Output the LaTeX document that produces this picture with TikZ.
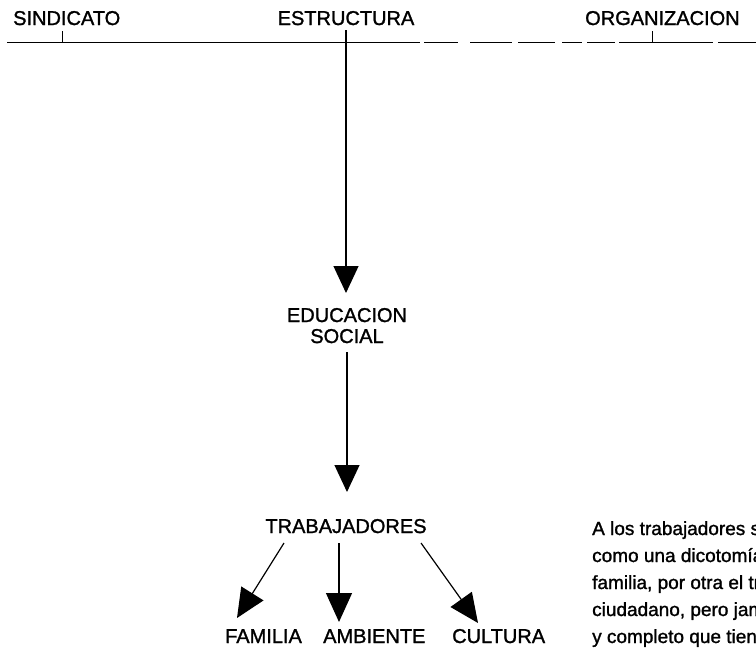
\documentclass[tikz,border=0pt]{standalone}
\usepackage{fontspec}
\setmainfont{Liberation Sans}[AutoFakeBold=1.3]
\usetikzlibrary{arrows.meta}
\begin{document}
\begin{tikzpicture}[x=1pt,y=-1pt,
  lbl/.style={inner sep=0pt,font=\fontsize{20}{24}\selectfont\bfseries},
  para/.style={inner sep=0pt,font=\fontsize{19}{24}\selectfont\bfseries},
  ln/.style={line width=0.9pt},
  arr/.style={line width=1.2pt,-{Triangle[width=25pt,length=27pt]}},
  arrb/.style={line width=1.2pt,-{Triangle[width=26pt,length=29pt]}}]
\useasboundingbox (0,0) rectangle (756,648);
\begin{scope}
\clip (0,0) rectangle (756,648);
% top labels
\node[lbl,anchor=base west] (sind) at (13,25) {SINDICATO};
\node[lbl,anchor=base] (estr) at (346,25) {ESTRUCTURA};
\node[lbl,anchor=base west] (orga) at (585,25) {ORGANIZACION};
% horizontal line with ticks
\coordinate (l0) at (7,42);
\coordinate (l1) at (420,42);
\draw[ln] (l0) -- (l1);
\draw[ln] (424,42) -- (458,42) (470,42) -- (512,42) (518,42) -- (555,42)
  (562,42) -- (582,42) (587,42) -- (615,42) (619,42) -- (713,42) (718,42) -- (756,42);
\coordinate (s1) at (62,31);
\coordinate (s2) at (62,42);
\draw[line width=0.9pt] (s1) -- (s2);
\coordinate (o1) at (652,31);
\coordinate (o2) at (652,42);
\draw[line width=0.9pt] (o1) -- (o2);
% middle column
\coordinate (e0) at (346,30);
\coordinate (e1) at (346,293);
\draw[arr] (e0) -- (e1);
\node[lbl,anchor=base] (educ) at (347,322) {EDUCACION};
\node[lbl,anchor=base] (soc) at (347,343) {SOCIAL};
\coordinate (s0) at (347,352);
\coordinate (s3) at (347,492);
\draw[arr] (s0) -- (s3);
\node[lbl,anchor=base] (trab) at (346,533) {TRABAJADORES};
% three branches
\coordinate (b1) at (284,543);
\coordinate (b2) at (339,543);
\coordinate (b3) at (421,543);
\coordinate (f1) at (237,618);
\coordinate (f2) at (339,622);
\coordinate (f3) at (478,623);
\draw[arrb] (b1) -- (f1);
\draw[arrb] (b2) -- (f2);
\draw[arrb] (b3) -- (f3);
\node[lbl,anchor=base west] (fam) at (225,643) {FAMILIA};
\node[lbl,anchor=base west] (amb) at (323,643) {AMBIENTE};
\node[lbl,anchor=base west] (cul) at (452,643) {CULTURA};
% paragraph
\node[para,anchor=base west] (p1) at (592,535) {A los trabajadores s};
\node[para,anchor=base west] (p2) at (592,562) {como una dicotomía};
\node[para,anchor=base west] (p3) at (592,589) {familia, por otra el tr};
\node[para,anchor=base west] (p4) at (592,616) {ciudadano, pero jam};
\node[para,anchor=base west] (p5) at (592,643) {y completo que tiene};
\end{scope}
\end{tikzpicture}
\end{document}
